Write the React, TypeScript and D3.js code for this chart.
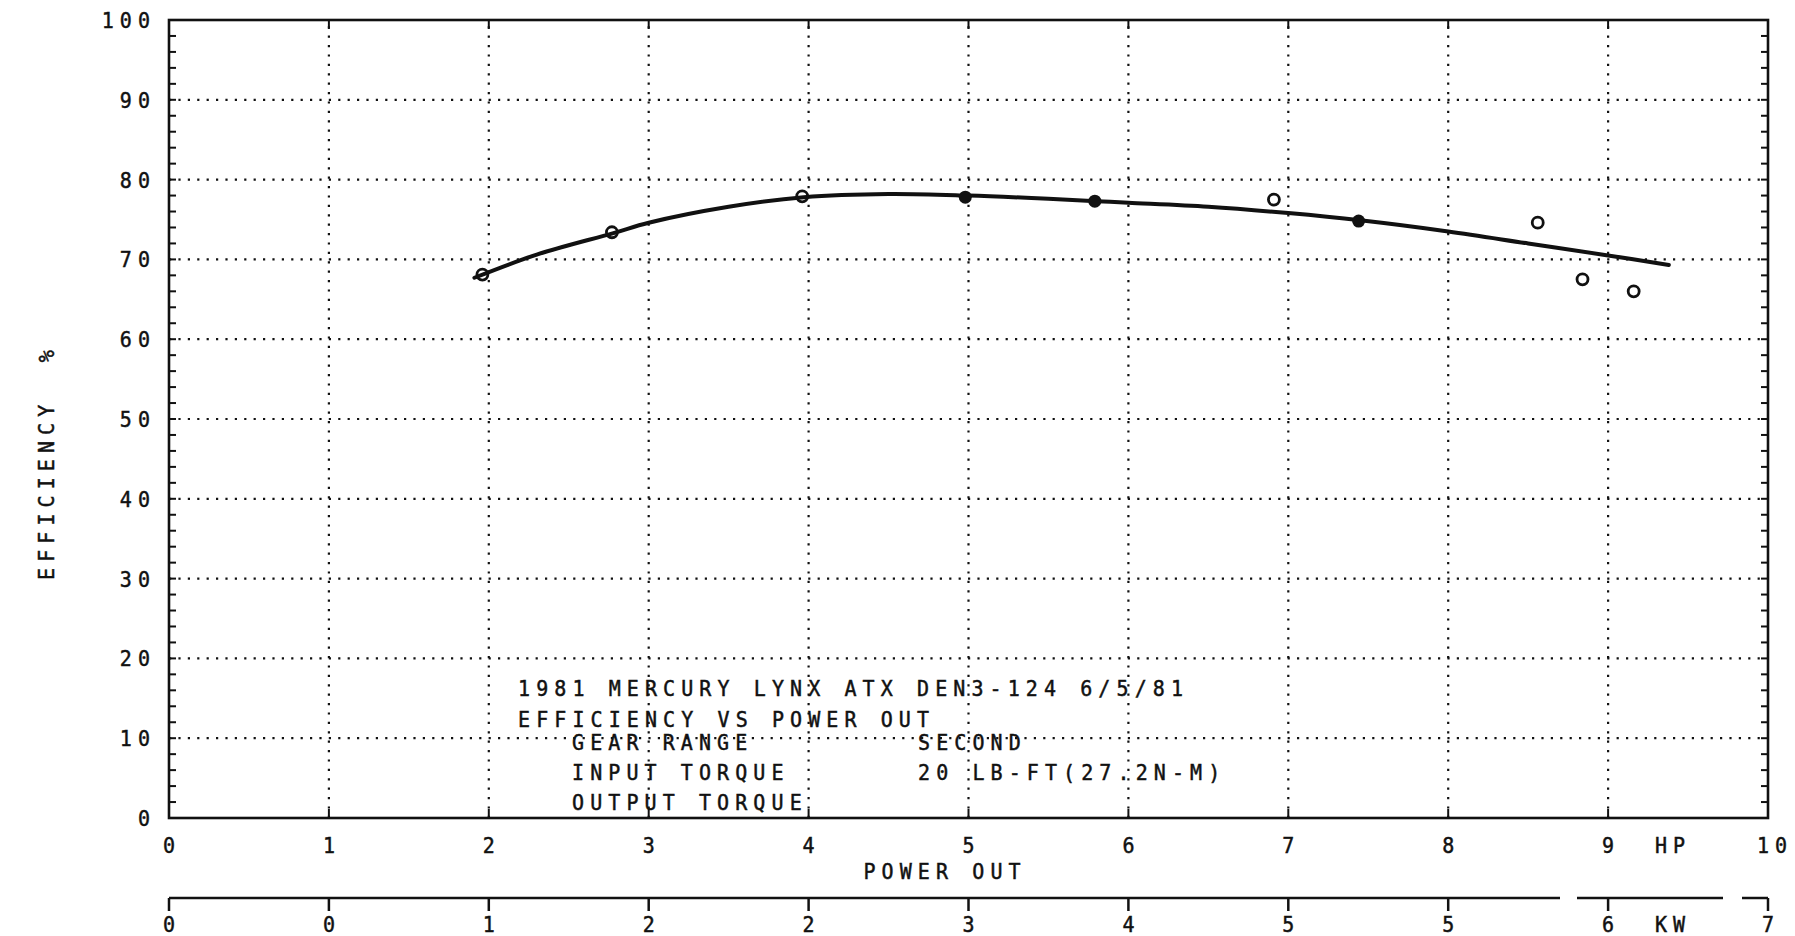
import React from "react";
import * as d3 from "d3";

const hpTicks = [0, 1, 2, 3, 4, 5, 6, 7, 8, 9, 10];
const hpLabels = ["0", "1", "2", "3", "4", "5", "6", "7", "8", "9", "10"];
const kwLabels = ["0", "0", "1", "2", "2", "3", "4", "5", "5", "6", "7"];
const effTicks = [0, 10, 20, 30, 40, 50, 60, 70, 80, 90, 100];
const minorTicks = d3.range(0, 101, 2);

const openPowerHP = [1.96, 2.77, 3.96, 6.91, 8.56, 8.84, 9.16];
const openEff = [68.1, 73.4, 77.9, 77.5, 74.6, 67.5, 66.0];
const filledPowerHP = [4.98, 5.79, 7.44];
const filledEff = [77.8, 77.3, 74.8];

const curvePowerHP = [1.91, 2.3, 2.78, 3.0, 3.5, 3.97, 4.5, 5.0, 5.5, 5.8, 6.0, 6.5, 7.0, 7.45, 8.0, 8.5, 9.0, 9.38];
const curveEff = [67.7, 70.6, 73.3, 74.6, 76.6, 77.8, 78.2, 78.0, 77.6, 77.3, 77.1, 76.6, 75.8, 74.9, 73.5, 72.0, 70.5, 69.3];

const titleLines = [
  "1981 MERCURY LYNX ATX DEN3-124 6/5/81",
  "EFFICIENCY VS POWER OUT",
];
const infoLabels = ["GEAR RANGE", "INPUT TORQUE", "OUTPUT TORQUE"];
const infoValues = ["SECOND", "20 LB-FT(27.2N-M)", ""];
const yTitle = "EFFICIENCY\u00A0\u00A0%";

const W = 1795;
const H = 936;
const FS = 20;
const LS = 6.1;
const SY = 1.1;
const FONT = "'DejaVu Sans Mono', 'Liberation Mono', monospace";
const INK = "#111";

export default function App() {
  const x = d3.scaleLinear().domain([0, 10]).range([169, 1768]);
  const y = d3.scaleLinear().domain([0, 100]).range([818, 20]);
  const [x0, x1] = x.range();
  const [yb, yt] = y.range();

  const line = d3
    .line<number>()
    .x((_, i) => x(curvePowerHP[i]))
    .y((_, i) => y(curveEff[i]))
    .curve(d3.curveCatmullRom.alpha(0.5));

  const txt = (
    px: number,
    py: number,
    s: string,
    anchor: string = "start",
    key?: any,
    rot: number = 0
  ) => (
    <g key={key} transform={`translate(${px},${py}) rotate(${rot}) scale(1,${SY})`}>
      <text
        x={0}
        y={0}
        textAnchor={anchor}
        fontFamily={FONT}
        fontSize={FS}
        letterSpacing={LS}
        fill={INK}
        stroke={INK}
        strokeWidth={0.45}
      >
        {s}
      </text>
    </g>
  );

  const kwY = 898;
  const kwSegments = [
    [x0, 1560],
    [1577, 1723],
    [1742, x1],
  ];

  return (
    <svg
      width={W}
      height={H}
      style={{ position: "absolute", left: 0, top: 0, background: "#fff" }}
    >
      <rect x={0} y={0} width={W} height={H} fill="#fff" />
      {/* grid */}
      <g stroke={INK} strokeWidth={2.2} strokeDasharray="2.2 7.2" strokeLinecap="butt">
        {hpTicks.slice(1, -1).map((t) => (
          <line key={"gx" + t} x1={x(t)} x2={x(t)} y1={yb} y2={yt} />
        ))}
        {effTicks.slice(1, -1).map((t) => (
          <line key={"gy" + t} x1={x0} x2={x1} y1={y(t)} y2={y(t)} />
        ))}
      </g>
      {/* frame */}
      <rect x={x0} y={yt} width={x1 - x0} height={yb - yt} fill="none" stroke={INK} strokeWidth={2.6} />
      {/* ticks */}
      <g stroke={INK} strokeWidth={2}>
        {minorTicks.map((t) => (
          <g key={"mt" + t}>
            <line x1={x0} x2={x0 + 7} y1={y(t)} y2={y(t)} />
            <line x1={x1} x2={x1 - 7} y1={y(t)} y2={y(t)} />
          </g>
        ))}
        {hpTicks.map((t) => (
          <g key={"xt" + t}>
            <line x1={x(t)} x2={x(t)} y1={yb} y2={yb - 9} />
            <line x1={x(t)} x2={x(t)} y1={yt} y2={yt + 9} />
          </g>
        ))}
      </g>
      {/* y tick labels */}
      {effTicks.map((t) => txt(150 + LS, y(t) + 8, String(t), "end", "yl" + t))}
      {/* HP tick labels */}
      {hpTicks.map((t, i) =>
        txt(x(t) + LS / 2 + (t === 10 ? 4 : 0), 853, hpLabels[i], "middle", "xl" + t)
      )}
      {txt(1670 + LS / 2, 853, "HP", "middle")}
      {txt(942 + LS / 2, 879, "POWER OUT", "middle")}
      {/* KW axis */}
      <g stroke={INK} strokeWidth={2.5}>
        {kwSegments.map((s, i) => (
          <line key={"kw" + i} x1={s[0]} x2={s[1]} y1={kwY} y2={kwY} />
        ))}
        {hpTicks.map((t) => (
          <line key={"kt" + t} x1={x(t)} x2={x(t)} y1={kwY} y2={kwY + 13} />
        ))}
      </g>
      {hpTicks.map((t, i) => txt(x(t) + LS / 2, 932, kwLabels[i], "middle", "kl" + t))}
      {txt(1670 + LS / 2, 932, "KW", "middle")}
      {/* y axis title */}
      {txt(54, 580, yTitle, "start", "ytitle", -90)}
      {/* annotation */}
      {titleLines.map((s, i) => txt(518, 696 + i * 31, s, "start", "tl" + i))}
      {infoLabels.map((s, i) => txt(572, 750 + i * 30, s, "start", "il" + i))}
      {infoValues.map((s, i) => txt(918, 750 + i * 30, s, "start", "iv" + i))}
      {/* curve */}
      <path d={line(curvePowerHP) || ""} fill="none" stroke={INK} strokeWidth={4} strokeLinecap="round" />
      {/* markers */}
      {openPowerHP.map((p, i) => (
        <circle key={"o" + i} cx={x(p)} cy={y(openEff[i])} r={5.5} fill="#fff" fillOpacity={0} stroke={INK} strokeWidth={2.8} />
      ))}
      {filledPowerHP.map((p, i) => (
        <circle key={"f" + i} cx={x(p)} cy={y(filledEff[i])} r={6.5} fill={INK} />
      ))}
    </svg>
  );
}
